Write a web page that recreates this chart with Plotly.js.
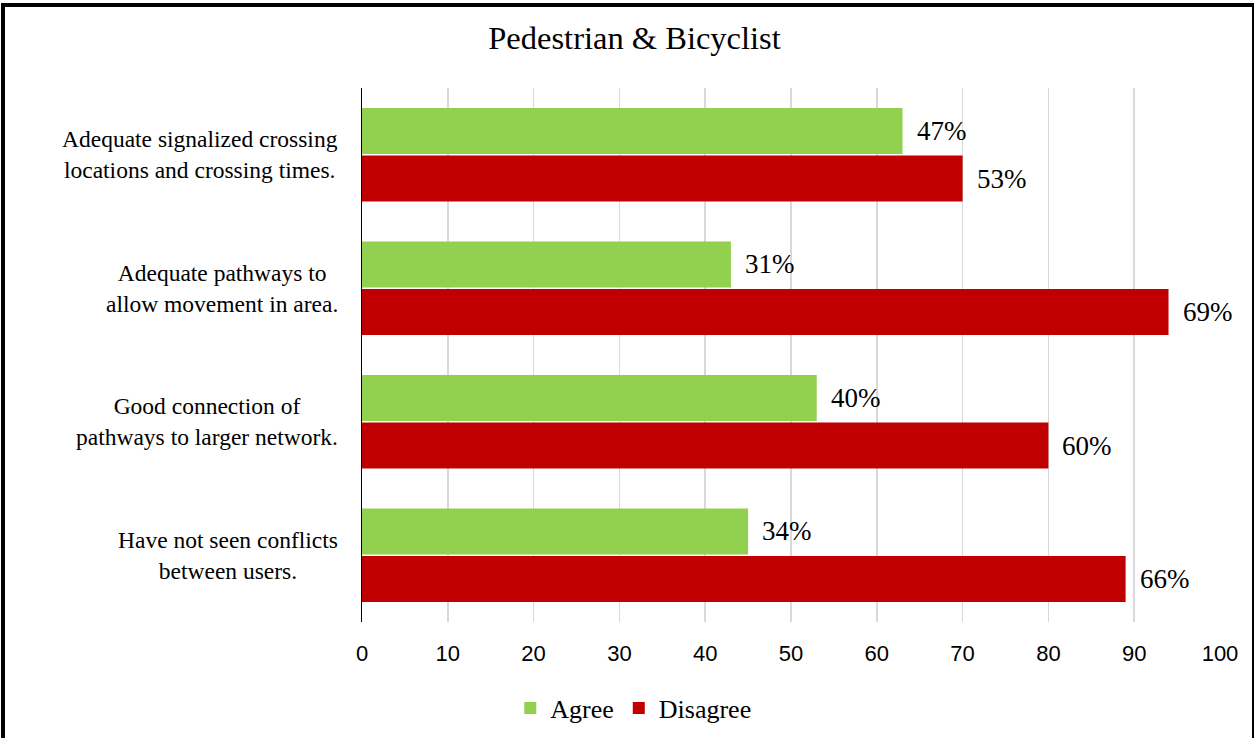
<!DOCTYPE html>
<html>
<head>
<meta charset="utf-8">
<script src="https://cdn.plot.ly/plotly-3.0.1.min.js"></script>
<style>
html,body{margin:0;padding:0;background:#fff;}
#chart{position:absolute;left:0;top:0;width:1254px;height:738px;}
#frame{position:absolute;left:1px;top:3px;width:1247px;height:800px;border-top:4px solid #000;border-left:4px solid #000;border-right:3px solid #000;pointer-events:none;}
</style>
</head>
<body>
<div id="chart"></div>
<div id="frame"></div>
<script>
const categories = [
  "Adequate signalized crossing<br>locations and crossing times.",
  "Adequate pathways to<br>allow movement in area.",
  "Good connection of<br>pathways to larger network.",
  "Have not seen conflicts<br>between users."
];
const agreeValues = [63, 43, 53, 45];
const disagreeValues = [70, 94, 80, 89];
const agreeLabels = ["47%", "31%", "40%", "34%"];
const disagreeLabels = ["53%", "69%", "60%", "66%"];
const xTicks = [0, 10, 20, 30, 40, 50, 60, 70, 80, 90, 100];

const serif = "Liberation Serif, Times New Roman, serif";
const sans = "Liberation Sans, Arial, sans-serif";

const traces = [
  {type: "bar", orientation: "h", name: "Agree", y: categories, x: agreeValues,
   marker: {color: "#92D050"}, hoverinfo: "skip"},
  {type: "bar", orientation: "h", name: "Disagree", y: categories, x: disagreeValues,
   marker: {color: "#C00000"}, hoverinfo: "skip"}
];

const annotations = [];
categories.forEach((c, i) => {
  annotations.push({xref: "paper", yref: "y", x: 0, y: c, xanchor: "right", yanchor: "middle",
    xshift: -22, text: c, showarrow: false, align: "center",
    font: {family: serif, size: 23.5, color: "#000"}});
  annotations.push({xref: "x", yref: "y", x: agreeValues[i], y: c, xanchor: "left", yanchor: "middle",
    xshift: 12, yshift: 24, text: agreeLabels[i], showarrow: false,
    font: {family: serif, size: 27, color: "#000"}});
  annotations.push({xref: "x", yref: "y", x: disagreeValues[i], y: c, xanchor: "left", yanchor: "middle",
    xshift: 12, yshift: -24, text: disagreeLabels[i], showarrow: false,
    font: {family: serif, size: 27, color: "#000"}});
});

const layout = {
  width: 1254, height: 738,
  margin: {l: 362, r: 34, t: 88, b: 116},
  paper_bgcolor: "#fff", plot_bgcolor: "#fff",
  title: {text: "Pedestrian & Bicyclist", font: {family: serif, size: 32.5, color: "#000"},
          xref: "container", x: 0.506, xanchor: "center", yref: "container", y: 1 - 38/738, yanchor: "middle"},
  barmode: "group", bargap: 0.29, bargroupgap: 0.03,
  xaxis: {range: [0, 100], tickvals: xTicks, ticktext: xTicks.map(String), showgrid: true,
          gridcolor: "#d9d9d9", gridwidth: 1.5, zeroline: false, showline: false, ticks: "",
          tickfont: {family: sans, size: 22, color: "#000"}, ticklabelstandoff: 16, fixedrange: true},
  yaxis: {autorange: "reversed", showticklabels: false, showgrid: false, zeroline: false,
          showline: true, linecolor: "#000", linewidth: 1.5, ticks: "", fixedrange: true},
  showlegend: true,
  legend: {orientation: "h", xref: "container", yref: "container", x: 0.505, xanchor: "center",
           y: 1 - 708/738, yanchor: "middle", font: {family: serif, size: 26, color: "#000"},
           itemwidth: 30, traceorder: "normal"},
  annotations: annotations
};

Plotly.newPlot("chart", traces, layout, {staticPlot: true, displayModeBar: false});
</script>
</body>
</html>
